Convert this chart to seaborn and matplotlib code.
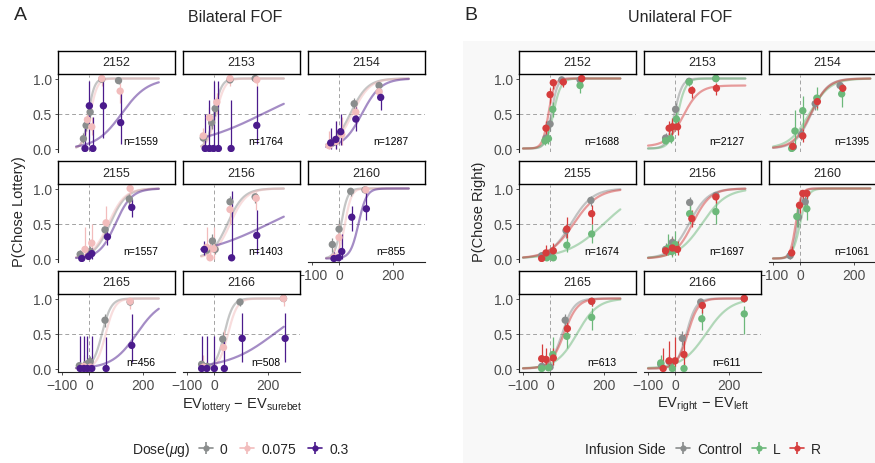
import numpy as np
import pandas as pd
import matplotlib
matplotlib.use("Agg")
import matplotlib.pyplot as plt
import seaborn as sns
from matplotlib.lines import Line2D
from matplotlib.legend_handler import HandlerTuple

# ---------------- data ----------------
# points: (x, p, ci_low, ci_high)
dose_levels = ["0", "0.075", "0.3"]
side_levels = ["Control", "L", "R"]

bi_2152 = {"0": [(-21, .14, .08, .22), (-11, .33, .25, .42), (4, .52, .42, .62), (47, .99, .95, 1), (109, .97, .92, 1)],
           "0.075": [(-6, .41, .30, .55), (10, .31, .20, .45), (47, 1, .90, 1), (115, .82, .65, .93)],
           "0.3": [(-15, 0, 0, .45), (1, .61, .05, .97), (14, 0, 0, .45), (53, .61, .15, .97), (117, .37, .06, .85)]}
bi_2153 = {"0": [(-40, .15, .10, .22), (-9, .37, .28, .47), (4, .57, .47, .67), (59, .98, .93, 1), (152, 1, .97, 1)],
           "0.075": [(-40, .18, .10, .30), (-17, .44, .30, .60), (10, .66, .50, .80), (59, 1, .90, 1), (158, .98, .90, 1)],
           "0.3": [(-33, 0, 0, .50), (-17, 0, 0, .70), (-2, 0, 0, .97), (16, 0, 0, .97), (63, 0, 0, .70), (158, .33, .06, .90)]}
bi_2154 = {"0": [(-25, .08, .04, .14), (6, .22, .15, .30), (56, .64, .55, .72), (148, .90, .85, .95)],
           "0.075": [(-37, .04, 0, .25), (-12, .10, 0, .40), (10, .20, .05, .45), (62, .52, .35, .70), (148, .81, .70, .90)],
           "0.3": [(-31, .08, 0, .30), (-12, .13, 0, .40), (6, .24, .05, .50), (62, .42, .25, .60), (154, .73, .55, .85)]}
bi_2155 = {"0": [(-33, .06, .02, .12), (4, .10, .05, .18), (59, .41, .30, .52), (149, .85, .75, .92)],
           "0.075": [(-15, .13, .02, .45), (10, .22, .05, .50), (63, .51, .25, .75), (152, 1, .80, 1)],
           "0.3": [(-27, 0, 0, .08), (-2, .03, 0, .10), (10, .07, 0, .15), (68, .31, .20, .45), (158, .73, .60, .85)]}
bi_2156 = {"0": [(-27, .12, .06, .20), (-6, .25, .15, .35), (4, .13, .07, .22), (59, .81, .70, .90), (152, .88, .80, .94)],
           "0.075": [(-27, .16, 0, .45), (-15, .01, 0, .30), (-2, .14, 0, .45), (59, .70, .50, .85), (156, .86, .70, .95)],
           "0.3": [(-36, .13, .05, .25), (65, .01, 0, .97), (158, .33, .06, .70)]}
bi_2160 = {"0": [(-25, .20, .10, .30), (0, .42, .30, .55), (43, .96, .90, 1), (96, .98, .93, 1)],
           "0.075": [(-19, .02, 0, .15), (0, .30, .10, .50), (99, .98, .90, 1)],
           "0.3": [(-19, 0, 0, .10), (-2, .01, 0, .10), (10, .10, 0, .35), (47, .59, .40, .75), (101, .71, .55, .95)]}
bi_2165 = {"0": [(-36, .04, .01, .10), (-11, .06, .02, .12), (4, .10, .04, .18), (59, .69, .60, .78), (152, .95, .90, .98)],
           "0.075": [(-20, .03, 0, .20), (5, .02, 0, .15), (152, .96, .85, 1)],
           "0.3": [(-33, 0, 0, .46), (-19, 0, 0, .46), (-6, 0, 0, .46), (10, 0, 0, .46), (63, 0, 0, .45), (158, .33, .10, .78)]}
bi_2166 = {"0": [(-46, .06, .02, .12), (-27, .03, 0, .10), (32, .42, .32, .52), (96, .95, .90, .98), (257, 1, .97, 1)],
           "0.075": [(-40, .02, 0, .20), (35, .30, .10, .55), (257, 1, .90, 1)],
           "0.3": [(-46, 0, 0, .46), (-27, 0, 0, .46), (1, 0, 0, .46), (38, 0, 0, .46), (104, .43, .10, .80), (263, .43, .10, .80)]}

# fitted psychometric curves: (midpoint, scale, lower, upper)
bi_fits = {2152: {"0": (-2, 11, 0, 1), "0.075": (5, 13, 0, 1), "0.3": (121, 48, 0, 1)},
           2153: {"0": (0, 14, 0, 1), "0.075": (8, 16, 0, 1), "0.3": (183, 132, 0, 1)},
           2154: {"0": (42, 32, 0, 1), "0.075": (50, 32, 0, 1), "0.3": (85, 35, 0, 1)},
           2155: {"0": (78, 30, 0, 1), "0.075": (72, 30, 0, 1), "0.3": (98, 30, 0, 1)},
           2156: {"0": (50, 30, 0, 1), "0.075": (60, 30, 0, 1), "0.3": (205, 134, 0, 1)},
           2160: {"0": (8, 12, 0, 1), "0.075": (22, 12, 0, 1), "0.3": (72, 15, 0, 1)},
           2165: {"0": (48, 17, 0, 1), "0.075": (62, 17, 0, 1), "0.3": (177, 46, 0, 1)},
           2166: {"0": (38, 16, 0, 1), "0.075": (52, 17, 0, 1), "0.3": (224, 87, 0, 1)}}
bi_n = {2152: 1559, 2153: 1764, 2154: 1287, 2155: 1557, 2156: 1403, 2160: 855, 2165: 456, 2166: 508}

uni_2152 = {"Control": [(-15, .15, .08, .25), (0, .35, .25, .45), (43, .98, .93, 1), (111, .98, .93, 1)],
            "L": [(-19, .11, .05, .20), (-6, .14, .07, .25), (10, .56, .45, .67), (111, .90, .80, .96)],
            "R": [(-15, .29, .20, .40), (0, .77, .65, .87), (12, .94, .85, .98), (49, .95, .88, .99), (117, 1, .95, 1)]}
uni_2153 = {"Control": [(-35, .15, .10, .22), (2, .56, .47, .65), (52, .96, .92, .99), (151, 1, .96, 1)],
            "L": [(-35, .11, .06, .18), (-16, .14, .08, .22), (5, .42, .30, .55), (52, .95, .90, .98), (151, 1, .95, 1)],
            "R": [(-22, .29, .20, .40), (-10, .31, .20, .43), (9, .31, .20, .43), (62, .83, .72, .90), (153, .86, .77, .93)]}
uni_2154 = {"Control": [(-25, .02, 0, .06), (5, .20, .12, .30), (56, .64, .55, .72), (148, .90, .85, .95)],
            "L": [(-31, 0, 0, .05), (-19, .25, .05, .55), (10, .54, .30, .75), (62, .72, .55, .88), (154, .78, .60, .90)],
            "R": [(-27, .03, 0, .10), (10, .18, .10, .28), (64, .67, .58, .75), (158, .86, .80, .92)]}
uni_2155 = {"Control": [(-31, .04, .01, .10), (0, .06, .02, .12), (59, .40, .30, .50), (151, .83, .75, .90)],
            "L": [(-12, .01, 0, .12), (12, .01, 0, .10), (62, .19, .10, .30), (154, .35, .22, .50)],
            "R": [(-31, 0, 0, .08), (-15, .08, .02, .20), (12, .11, .03, .22), (62, .42, .30, .60), (154, .64, .50, .77)]}
uni_2156 = {"Control": [(-35, .13, .06, .22), (-10, .23, .15, .32), (54, .80, .70, .88), (151, .90, .82, .95)],
            "L": [(-25, .15, .05, .35), (-12, .10, .02, .30), (0, .20, .05, .40), (54, .64, .50, .77), (151, .67, .50, .82)],
            "R": [(-35, .11, .05, .20), (-10, .15, .05, .30), (9, .13, .05, .25), (62, .57, .45, .70), (151, .88, .80, .94)]}
uni_2160 = {"Control": [(-37, .04, 0, .10), (-6, .59, .45, .72), (19, .81, .70, .90)],
            "L": [(-12, .60, .45, .75), (25, .71, .55, .85)],
            "R": [(-31, .08, .02, .18), (-2, .76, .65, .85), (10, .93, .85, .97), (25, .93, .85, .97)]}
uni_2165 = {"Control": [(-31, .03, 0, .08), (0, .02, 0, .06), (56, .69, .60, .78), (154, .96, .90, .99)],
            "L": [(-31, 0, 0, .10), (-6, .01, 0, .08), (10, .20, .05, .45), (62, .46, .30, .62), (154, .73, .55, .87)],
            "R": [(-31, .14, .05, .35), (-15, .13, .05, .30), (12, .15, .05, .30), (64, .57, .45, .68), (154, .96, .90, .99)]}
uni_2166 = {"Control": [(-53, .06, .02, .12), (-22, .10, .04, .20), (27, .43, .33, .53), (95, .95, .90, .98), (256, 1, .97, 1)],
            "L": [(-53, .08, .02, .20), (-10, 0, 0, .10), (33, 0, 0, .10), (99, .71, .55, .85), (256, .78, .50, .90)],
            "R": [(-44, 0, 0, .30), (-22, .11, .02, .40), (0, .11, .02, .45), (33, .20, .05, .50), (101, .90, .80, .96), (256, 1, .95, 1)]}

uni_fits = {2152: {"Control": (5, 11, 0, 1), "L": (12, 14, 0, 1), "R": (-6, 11, 0, 1)},
            2153: {"Control": (-2, 14, 0, 1), "L": (10, 15, 0, 1), "R": (30, 30, .03, .9)},
            2154: {"Control": (42, 30, 0, 1), "L": (35, 38, 0, 1), "R": (40, 32, 0, 1)},
            2155: {"Control": (78, 40, 0, 1), "L": (200, 70, 0, 1), "R": (88, 45, 0, 1)},
            2156: {"Control": (52, 35, 0, 1), "L": (100, 45, 0, 1), "R": (65, 33, 0, 1)},
            2160: {"Control": (-10, 10, 0, 1), "L": (0, 14, 0, 1), "R": (-16, 10, 0, 1)},
            2165: {"Control": (45, 22, 0, 1), "L": (100, 38, 0, 1), "R": (52, 25, 0, 1)},
            2166: {"Control": (42, 18, 0, 1), "L": (115, 45, 0, 1), "R": (47, 20, 0, 1)}}
uni_n = {2152: 1688, 2153: 2127, 2154: 1395, 2155: 1674, 2156: 1697, 2160: 1061, 2165: 613, 2166: 611}

rats = [2152, 2153, 2154, 2155, 2156, 2160, 2165, 2166]
bi_points = dict(zip(rats, [bi_2152, bi_2153, bi_2154, bi_2155, bi_2156, bi_2160, bi_2165, bi_2166]))
uni_points = dict(zip(rats, [uni_2152, uni_2153, uni_2154, uni_2155, uni_2156, uni_2160, uni_2165, uni_2166]))

dose_pal = {"0": "#8a8d8d", "0.075": "#f2bcbc", "0.3": "#4b1b8c"}
side_pal = {"Control": "#8a8d8d", "L": "#6cb87a", "R": "#d63d3d"}

# ---------------- style ----------------
sns.set_style("white")
plt.rcParams["font.family"] = ["Liberation Sans", "DejaVu Sans"]
plt.rcParams["mathtext.fontset"] = "custom"
plt.rcParams["mathtext.rm"] = "Liberation Sans"
plt.rcParams["mathtext.it"] = "Liberation Sans:italic"
plt.rcParams["mathtext.default"] = "regular"

W, H = 875, 464
fig = plt.figure(figsize=(W / 100, H / 100), dpi=100)
fig.patch.set_facecolor("white")
# light grey backdrop behind panel B
bg = fig.add_axes([463 / W, 0, (W - 463) / W, (H - 42) / H], zorder=-10)
bg.set_facecolor("#f8f8f8")
bg.set_xticks([])
bg.set_yticks([])
for sp in bg.spines.values():
    sp.set_visible(False)


def rect(l, t, w, h):
    return [l / W, 1 - (t + h) / H, w / W, h / H]


PW, PH = 117, 77
row_top = [76, 186, 296]


def logistic(x, m, s, lo, hi):
    return lo + (hi - lo) / (1 + np.exp(-(x - m) / s))


def draw_panel(left, top, rat, pts, fits, order, pal, xr, n, show_x, show_y):
    ax = fig.add_axes(rect(left, top, PW, PH))
    ax.set_facecolor("none")
    ax.set_xlim(-115, 318)
    ax.set_ylim(-0.05, 1.05)
    ax.axhline(0.5, ls=(0, (4, 3)), color="#a3a3a3", lw=0.7, zorder=1)
    ax.axvline(0, ls=(0, (4, 3)), color="#a3a3a3", lw=0.7, zorder=1)

    xs = np.linspace(xr[0], xr[1], 150)
    cdf = pd.concat([pd.DataFrame({"x": xs, "p": logistic(xs, *fits[c]), "cond": c}) for c in order])
    pdf = pd.DataFrame([(c, *p) for c in order for p in pts[c]], columns=["cond", "x", "y", "lo", "hi"])

    sns.lineplot(data=cdf, x="x", y="p", hue="cond", hue_order=order, palette=pal,
                 legend=False, ax=ax, linewidth=1.6, alpha=0.5, zorder=2)
    for c in order:
        sub = pdf[pdf.cond == c]
        ax.vlines(sub.x, sub.lo, sub.hi, color=pal[c], lw=0.9, zorder=3)
    sns.scatterplot(data=pdf, x="x", y="y", hue="cond", hue_order=order, palette=pal,
                    s=28, linewidth=0, legend=False, ax=ax, zorder=4)
    ax.text(192, 0.1, f"n={n}", ha="center", va="center", fontsize=7.5, color="black")

    ax.set_xlabel("")
    ax.set_ylabel("")
    for sp in ["top", "right"]:
        ax.spines[sp].set_visible(False)
    ax.spines["left"].set_visible(show_y)
    ax.spines["bottom"].set_visible(show_x)
    for sp in ["left", "bottom"]:
        ax.spines[sp].set_color("#222222")
        ax.spines[sp].set_linewidth(0.8)
    ax.set_xticks([-100, 0, 200])
    ax.set_xticklabels(["\u2212100", "0", "200"])
    ax.set_yticks([0, 0.5, 1.0])
    ax.set_yticklabels(["0.0", "0.5", "1.0"])
    ax.tick_params(axis="both", labelsize=10, labelcolor="#4d4d4d", color="#333333",
                   length=2.5, width=0.6, pad=2)
    ax.tick_params(axis="x", bottom=show_x, labelbottom=show_x)
    ax.tick_params(axis="y", left=show_y, labelleft=show_y)

    sax = fig.add_axes(rect(left, top - 24, PW, 23))
    sax.set_facecolor("white")
    sax.set_xticks([])
    sax.set_yticks([])
    for sp in sax.spines.values():
        sp.set_color("black")
        sp.set_linewidth(1.0)
    sax.text(0.5, 0.5, str(rat), ha="center", va="center", fontsize=9, transform=sax.transAxes)


def draw_block(col_left, points, fits, order, pal, xr, ns):
    for i, rat in enumerate(rats):
        r, c = divmod(i, 3)
        show_x = (r == 2) or (r == 1 and c == 2)
        draw_panel(col_left[c], row_top[r], rat, points[rat], fits[rat], order, pal, xr,
                   ns[rat], show_x, c == 0)


draw_block([58, 183, 308], bi_points, bi_fits, dose_levels, dose_pal, (-48, 258), bi_n)
draw_block([519, 644, 769], uni_points, uni_fits, side_levels, side_pal, (-100, 260), uni_n)

# ---------------- text ----------------
fig.text(20 / W, 1 - 16 / H, "A", fontsize=14, ha="center", va="center")
fig.text(471 / W, 1 - 16 / H, "B", fontsize=14, ha="center", va="center")
fig.text(235 / W, 1 - 17 / H, "Bilateral FOF", fontsize=11.5, ha="center", va="center")
fig.text(680 / W, 1 - 17 / H, "Unilateral FOF", fontsize=11.5, ha="center", va="center")
fig.text(19 / W, 1 - 212 / H, "P(Chose Lottery)", fontsize=10.5, rotation=90, ha="center", va="center")
fig.text(479 / W, 1 - 212 / H, "P(Chose Right)", fontsize=10.5, rotation=90, ha="center", va="center")
fig.text(242 / W, 1 - 406 / H, r"EV$_{lottery}$ $-$ EV$_{surebet}$", fontsize=10.5, ha="center", va="center")
fig.text(703 / W, 1 - 405 / H, r"EV$_{right}$ $-$ EV$_{left}$", fontsize=10.5, ha="center", va="center")


def key(color):
    return (Line2D([], [], color=color, lw=1.2, marker="o", ms=4.5, mec="none"),
            Line2D([], [], color=color, lw=0, marker="|", ms=9, mew=1.2))


fig.text(190 / W, 1 - 450 / H, r"Dose($\mathit{\mu}$g)", fontsize=10, ha="right", va="center")
fig.legend([key(dose_pal[d]) for d in dose_levels], dose_levels, ncol=3,
           handler_map={tuple: HandlerTuple(ndivide=1)},
           loc="center left", bbox_to_anchor=(188 / W, 1 - 450 / H), frameon=False,
           fontsize=10, handlelength=1.0, handletextpad=0.5, columnspacing=0.9, borderpad=0.3)

fig.text(666 / W, 1 - 450 / H, "Infusion Side", fontsize=10, ha="right", va="center")
fig.legend([key(side_pal[s]) for s in side_levels], side_levels, ncol=3,
           handler_map={tuple: HandlerTuple(ndivide=1)},
           loc="center left", bbox_to_anchor=(665 / W, 1 - 450 / H), frameon=False,
           fontsize=10, handlelength=1.0, handletextpad=0.5, columnspacing=0.7, borderpad=0.3)

fig.savefig("out.png", dpi=100, facecolor="white")
